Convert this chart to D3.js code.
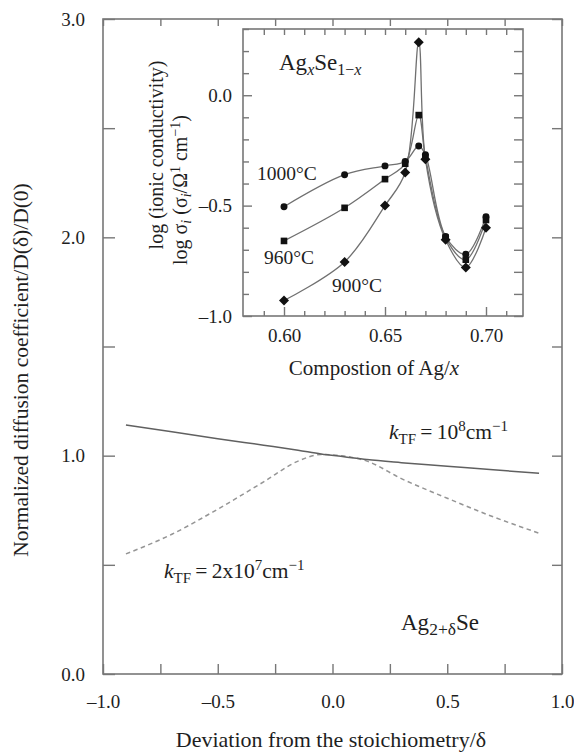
<!DOCTYPE html>
<html><head><meta charset="utf-8">
<script src="https://cdn.jsdelivr.net/npm/d3@7"></script>
<style>
body{margin:0;background:#fff;}
svg{display:block;font-family:"Liberation Serif","Times New Roman",serif;}
</style></head>
<body><svg id="c" width="574" height="752"></svg>
<script>
// ---- main chart data ----
const deltaVals = [-0.9,-0.7,-0.5,-0.3,-0.15,-0.05,0.05,0.15,0.3,0.5,0.7,0.9];
const kTF1e8 = [1.14,1.11,1.078,1.048,1.025,1.008,0.995,0.982,0.968,0.952,0.935,0.92];
const kTF2e7 = [0.55,0.64,0.755,0.88,0.975,1.005,0.998,0.975,0.895,0.805,0.72,0.645];
const mainXTicks = [-1,-0.75,-0.5,-0.25,0,0.25,0.5,0.75,1];
const mainXLabels = [-1,-0.5,0,0.5,1];
const mainYTicks = [0,0.5,1,1.5,2,2.5,3];
const mainYLabels = [0,1,2,3];
// ---- inset data ----
const compX = [0.60,0.63,0.65,0.66,0.6667,0.67,0.68,0.69,0.70];
const sig1000 = [-0.505,-0.36,-0.32,-0.30,-0.23,-0.27,-0.64,-0.72,-0.55];
const sig960  = [-0.66,-0.51,-0.38,-0.31,-0.09,-0.28,-0.645,-0.745,-0.565];
const sig900  = [-0.93,-0.755,-0.50,-0.35,0.24,-0.29,-0.655,-0.78,-0.60];
const insetXLabels = [0.60,0.65,0.70];
const insetYLabels = [0.0,-0.5,-1.0];

const svg = d3.select("#c");
const AX = "#777";
const TXT = "#1e1e1e";
const fmt = d => (d<0?"\u2013":"") + Math.abs(d).toFixed(1);
const fmt2 = d => d.toFixed(2);

// main scales
const L=103,R=562,T=19,B=674;
const x = d3.scaleLinear().domain([-1,1]).range([L,R]);
const y = d3.scaleLinear().domain([0,3]).range([B,T]);

function styleAxis(g){
  g.select(".domain").remove();
  g.selectAll(".tick line").attr("stroke",AX).attr("stroke-width",1.4);
  g.selectAll(".tick text").attr("fill",TXT).attr("font-family","Liberation Serif").attr("font-size",19);
}

svg.append("rect").attr("x",L).attr("y",T).attr("width",R-L).attr("height",B-T)
  .attr("fill","none").attr("stroke",AX).attr("stroke-width",1.6);

svg.append("g").attr("transform",`translate(0,${B})`)
  .call(d3.axisBottom(x).tickValues(mainXTicks).tickSize(-10).tickPadding(20.5)
    .tickFormat(d => mainXLabels.includes(d) ? fmt(d) : ""))
  .call(styleAxis);
svg.append("g").attr("transform",`translate(0,${T})`)
  .call(d3.axisTop(x).tickValues(mainXTicks).tickSize(-7).tickFormat(""))
  .call(styleAxis);
svg.append("g").attr("transform",`translate(${L},0)`)
  .call(d3.axisLeft(y).tickValues(mainYTicks).tickSize(-12).tickPadding(18)
    .tickFormat(d => mainYLabels.includes(d) ? fmt(d) : ""))
  .call(styleAxis);
svg.append("g").attr("transform",`translate(${R},0)`)
  .call(d3.axisRight(y).tickValues(mainYTicks).tickSize(-10).tickFormat(""))
  .call(styleAxis);

const line = d3.line().x((d,i)=>x(deltaVals[i])).y(d=>y(d)).curve(d3.curveMonotoneX);
svg.append("path").datum(kTF2e7).attr("d",line).attr("fill","none")
  .attr("stroke","#959595").attr("stroke-width",1.5).attr("stroke-dasharray","4.5,3.5");
svg.append("path").datum(kTF1e8).attr("d",line).attr("fill","none")
  .attr("stroke","#606060").attr("stroke-width",1.5);

// main labels
svg.append("text").attr("x",331).attr("y",747).attr("text-anchor","middle")
  .attr("font-size",22).attr("fill",TXT).text("Deviation from the stoichiometry/\u03b4");
svg.append("text").attr("transform","translate(28,370) rotate(-90)").attr("text-anchor","middle")
  .attr("font-size",21.5).attr("fill",TXT).text("Normalized diffusion coefficient/D(\u03b4)/D(0)");

function kLabel(xp,yp,parts){
  const t = svg.append("text").attr("x",xp).attr("y",yp).attr("font-size",21.5).attr("fill",TXT);
  t.append("tspan").attr("font-style","italic").text("k");
  t.append("tspan").attr("font-size",15).attr("dy",5).text("TF");
  t.append("tspan").attr("dy",-5).text("\u2009=\u2009"+parts[0]);
  t.append("tspan").attr("font-size",15).attr("dy",-8).text(parts[1]);
  t.append("tspan").attr("dy",8).text("cm");
  t.append("tspan").attr("font-size",15).attr("dy",-8).text("\u22121");
}
kLabel(389,439,["10","8"]);
kLabel(164,578,["2x10","7"]);
{
  const t = svg.append("text").attr("x",401).attr("y",630).attr("font-size",23).attr("fill",TXT);
  t.append("tspan").text("Ag");
  t.append("tspan").attr("font-size",17.5).attr("dy",5).text("2+\u03b4");
  t.append("tspan").attr("dy",-5).text("Se");
}

// ---- inset ----
const iL=243,iR=523,iT=29,iB=316;
const xi = d3.scaleLinear().domain([0.6,0.7]).range([284,486]);
const yi = d3.scaleLinear().domain([-1,0.3]).range([iB,iT]);
svg.append("rect").attr("x",iL).attr("y",iT).attr("width",iR-iL).attr("height",iB-iT)
  .attr("fill","#fff").attr("stroke",AX).attr("stroke-width",1.6);

const ixt = d3.range(0.59,0.7151,0.01).map(v=>+v.toFixed(2));
const iyt = d3.range(-1,0.301,0.1).map(v=>+v.toFixed(1));
const gxb = svg.append("g").attr("transform",`translate(0,${iB})`)
  .call(d3.axisBottom(xi).tickValues(ixt).tickSize(-5).tickPadding(13)
    .tickFormat(d => insetXLabels.some(v=>Math.abs(v-d)<1e-6) ? fmt2(d) : ""))
  .call(styleAxis);
gxb.selectAll(".tick line").attr("y2",d => insetXLabels.some(v=>Math.abs(v-d)<1e-6) ? -9 : -5);
svg.append("g").attr("transform",`translate(0,${iT})`)
  .call(d3.axisTop(xi).tickValues(ixt).tickSize(-6).tickFormat(""))
  .call(styleAxis);
const gyl = svg.append("g").attr("transform",`translate(${iL},0)`)
  .call(d3.axisLeft(yi).tickValues(iyt).tickSize(-6).tickPadding(11)
    .tickFormat(d => insetYLabels.some(v=>Math.abs(v-d)<1e-6) ? fmt(d) : ""))
  .call(styleAxis);
gyl.selectAll(".tick line").attr("x2",d => insetYLabels.some(v=>Math.abs(v-d)<1e-6) ? 9 : 6);
svg.append("g").attr("transform",`translate(${iR},0)`)
  .call(d3.axisRight(yi).tickValues(iyt).tickSize(-9).tickFormat(""))
  .call(styleAxis);

const iline = d3.line().x((d,i)=>xi(compX[i])).y(d=>yi(d)).curve(d3.curveCatmullRom.alpha(0.5));
const series = [
  {v:sig1000, sym:d3.symbolCircle, size:38, rot:0},
  {v:sig960, sym:d3.symbolSquare, size:44, rot:0},
  {v:sig900, sym:d3.symbolSquare, size:50, rot:45}
];
series.forEach(s=>{
  svg.append("path").datum(s.v).attr("d",iline).attr("fill","none")
    .attr("stroke","#707070").attr("stroke-width",1.3);
});
series.forEach(s=>{
  svg.append("g").selectAll("path").data(s.v).join("path")
    .attr("transform",(d,i)=>`translate(${xi(compX[i])},${yi(d)}) rotate(${s.rot})`)
    .attr("d",d3.symbol().type(s.sym).size(s.size)).attr("fill","#111");
});

svg.append("text").attr("x",257).attr("y",180).attr("font-size",19.5).attr("fill",TXT).text("1000\u00b0C");
svg.append("text").attr("x",264).attr("y",264).attr("font-size",19.5).attr("fill",TXT).text("960\u00b0C");
svg.append("text").attr("x",332).attr("y",292).attr("font-size",19.5).attr("fill",TXT).text("900\u00b0C");
{
  const t = svg.append("text").attr("x",279).attr("y",70).attr("font-size",23).attr("fill",TXT);
  t.append("tspan").text("Ag");
  t.append("tspan").attr("font-size",16).attr("font-style","italic").attr("dy",5).text("x");
  t.append("tspan").attr("dy",-5).text("Se");
  t.append("tspan").attr("font-size",16).attr("dy",5).text("1\u2212");
  t.append("tspan").attr("font-size",16).attr("font-style","italic").text("x");
}
{
  const t = svg.append("text").attr("x",374).attr("y",375).attr("text-anchor","middle")
    .attr("font-size",21).attr("fill",TXT);
  t.append("tspan").text("Compostion of Ag/");
  t.append("tspan").attr("font-style","italic").text("x");
}
svg.append("text").attr("transform","translate(163,155) rotate(-90)").attr("text-anchor","middle")
  .attr("font-size",20).attr("fill",TXT).text("log (ionic conductivity)");
{
  const t = svg.append("text").attr("transform","translate(187,190) rotate(-90)").attr("text-anchor","middle")
    .attr("font-size",20).attr("fill",TXT);
  t.append("tspan").text("log \u03c3");
  t.append("tspan").attr("font-size",14).attr("font-style","italic").attr("dy",4).text("i");
  t.append("tspan").attr("dy",-4).text(" (\u03c3");
  t.append("tspan").attr("font-size",14).attr("font-style","italic").attr("dy",4).text("i");
  t.append("tspan").attr("dy",-4).text("/\u03a9");
  t.append("tspan").attr("font-size",14).attr("dy",-7).text("1");
  t.append("tspan").attr("dy",7).text(" cm");
  t.append("tspan").attr("font-size",14).attr("dy",-7).text("\u22121");
  t.append("tspan").attr("dy",7).text(")");
}
</script></body></html>
